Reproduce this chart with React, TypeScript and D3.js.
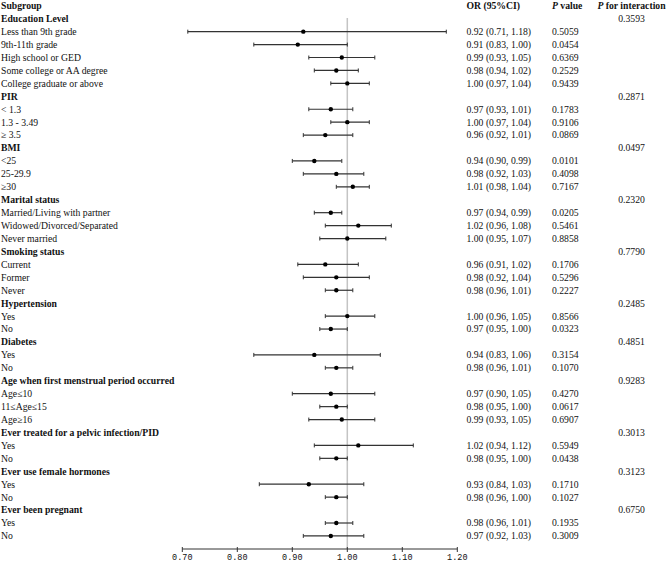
import React from "react";
import * as d3 from "d3";

const groups = [
  "Education Level",
  "PIR",
  "BMI",
  "Marital status",
  "Smoking status",
  "Hypertension",
  "Diabetes",
  "Age when first menstrual period occurred",
  "Ever treated for a pelvic infection/PID",
  "Ever use female hormones",
  "Ever been pregnant",
];
const pInteraction = ["0.3593", "0.2871", "0.0497", "0.2320", "0.7790", "0.2485", "0.4851", "0.9283", "0.3013", "0.3123", "0.6750"];
const groupSizes = [5, 3, 3, 3, 3, 2, 2, 3, 2, 2, 2];

const subgroups = [
  "Less than 9th grade", "9th-11th grade", "High school or GED", "Some college or AA degree", "College graduate or above",
  "< 1.3", "1.3 - 3.49", "\u2265  3.5",
  "<25", "25-29.9", "\u226530",
  "Married/Living with partner", "Widowed/Divorced/Separated", "Never married",
  "Current", "Former", "Never",
  "Yes", "No",
  "Yes", "No",
  "Age\u226410", "11\u2264Age\u226415", "Age\u226516",
  "Yes", "No",
  "Yes", "No",
  "Yes", "No",
];
const orValues = [0.92, 0.91, 0.99, 0.98, 1.0, 0.97, 1.0, 0.96, 0.94, 0.98, 1.01, 0.97, 1.02, 1.0, 0.96, 0.98, 0.98, 1.0, 0.97, 0.94, 0.98, 0.97, 0.98, 0.99, 1.02, 0.98, 0.93, 0.98, 0.98, 0.97];
const lowerCI = [0.71, 0.83, 0.93, 0.94, 0.97, 0.93, 0.97, 0.92, 0.9, 0.92, 0.98, 0.94, 0.96, 0.95, 0.91, 0.92, 0.96, 0.96, 0.95, 0.83, 0.96, 0.9, 0.95, 0.93, 0.94, 0.95, 0.84, 0.96, 0.96, 0.92];
const upperCI = [1.18, 1.0, 1.05, 1.02, 1.04, 1.01, 1.04, 1.01, 0.99, 1.03, 1.04, 0.99, 1.08, 1.07, 1.02, 1.04, 1.01, 1.05, 1.0, 1.06, 1.01, 1.05, 1.0, 1.05, 1.12, 1.0, 1.03, 1.0, 1.01, 1.03];
const pValues = ["0.5059", "0.0454", "0.6369", "0.2529", "0.9439", "0.1783", "0.9106", "0.0869", "0.0101", "0.4098", "0.7167", "0.0205", "0.5461", "0.8858", "0.1706", "0.5296", "0.2227", "0.8566", "0.0323", "0.3154", "0.1070", "0.4270", "0.0617", "0.6907", "0.5949", "0.0438", "0.1710", "0.1027", "0.1935", "0.3009"];
const tickValues = [0.7, 0.8, 0.9, 1.0, 1.1, 1.2];

type Row =
  | { kind: "group"; label: string; pint: string }
  | { kind: "sub"; label: string; or: number; lo: number; hi: number; p: string };

const rows: Row[] = [];
{
  let k = 0;
  groups.forEach((g, gi) => {
    rows.push({ kind: "group", label: g, pint: pInteraction[gi] });
    for (let j = 0; j < groupSizes[gi]; j++) {
      rows.push({ kind: "sub", label: subgroups[k], or: orValues[k], lo: lowerCI[k], hi: upperCI[k], p: pValues[k] });
      k++;
    }
  });
}

const FONT = "'Liberation Serif', 'Times New Roman', serif";

export default function App() {
  const W = 669;
  const H = 562;
  const x = d3.scaleLinear().domain([0.7, 1.2]).range([182.3, 457.3]);
  const y = d3.scaleLinear().domain([0, 1]).range([5.8, 5.8 + 12.93]);
  const axisY = 549;
  const fmt = d3.format(".2f");
  const colOR = 466.5;
  const colP = 552;
  const colPI = 631.5;

  return (
    <svg width={W} height={H} style={{ position: "absolute", left: 0, top: 0, display: "block", background: "#fff" }} fontFamily={FONT} fontSize={9.7} fill="#111">
      <g fontWeight="bold">
        <text x={1} y={y(0)} dy="0.35em">Subgroup</text>
        <text x={colOR} y={y(0)} dy="0.35em">OR (95%CI)</text>
        <text x={colP} y={y(0)} dy="0.35em"><tspan fontStyle="italic">P</tspan> value</text>
        <text x={colPI} y={y(0)} dy="0.35em" textAnchor="middle"><tspan fontStyle="italic">P</tspan> for interaction</text>
      </g>
      <line x1={x(1)} x2={x(1)} y1={18} y2={axisY} stroke="#c4c4c4" strokeWidth={1.5} />
      {rows.map((r, i) => {
        const yy = y(i + 1);
        if (r.kind === "group") {
          return (
            <g key={i}>
              <text x={1} y={yy} dy="0.35em" fontWeight="bold">{r.label}</text>
              <text x={colPI} y={yy} dy="0.35em" textAnchor="middle">{r.pint}</text>
            </g>
          );
        }
        return (
          <g key={i}>
            <text x={1} y={yy} dy="0.35em">{r.label}</text>
            <line x1={x(r.lo)} x2={x(r.hi)} y1={yy} y2={yy} stroke="#333" strokeWidth={1.2} />
            <line x1={x(r.lo)} x2={x(r.lo)} y1={yy - 2} y2={yy + 2} stroke="#333" strokeWidth={1} />
            <line x1={x(r.hi)} x2={x(r.hi)} y1={yy - 2} y2={yy + 2} stroke="#333" strokeWidth={1} />
            <circle cx={x(r.or)} cy={yy} r={2.2} fill="#000" />
            <text x={colOR} y={yy} dy="0.35em">{`${fmt(r.or)} (${fmt(r.lo)}, ${fmt(r.hi)})`}</text>
            <text x={colP} y={yy} dy="0.35em">{r.p}</text>
          </g>
        );
      })}
      <g>
        <line x1={x(0.7)} x2={x(1.2)} y1={axisY} y2={axisY} stroke="#333" strokeWidth={1} />
        {tickValues.map((t) => (
          <g key={t}>
            <line x1={x(t)} x2={x(t)} y1={axisY - 2} y2={axisY + 3} stroke="#333" strokeWidth={1} />
            <text x={x(t)} y={559.5} textAnchor="middle" fontFamily="'Liberation Mono', monospace" fontSize={8.5}>{fmt(t)}</text>
          </g>
        ))}
      </g>
    </svg>
  );
}
